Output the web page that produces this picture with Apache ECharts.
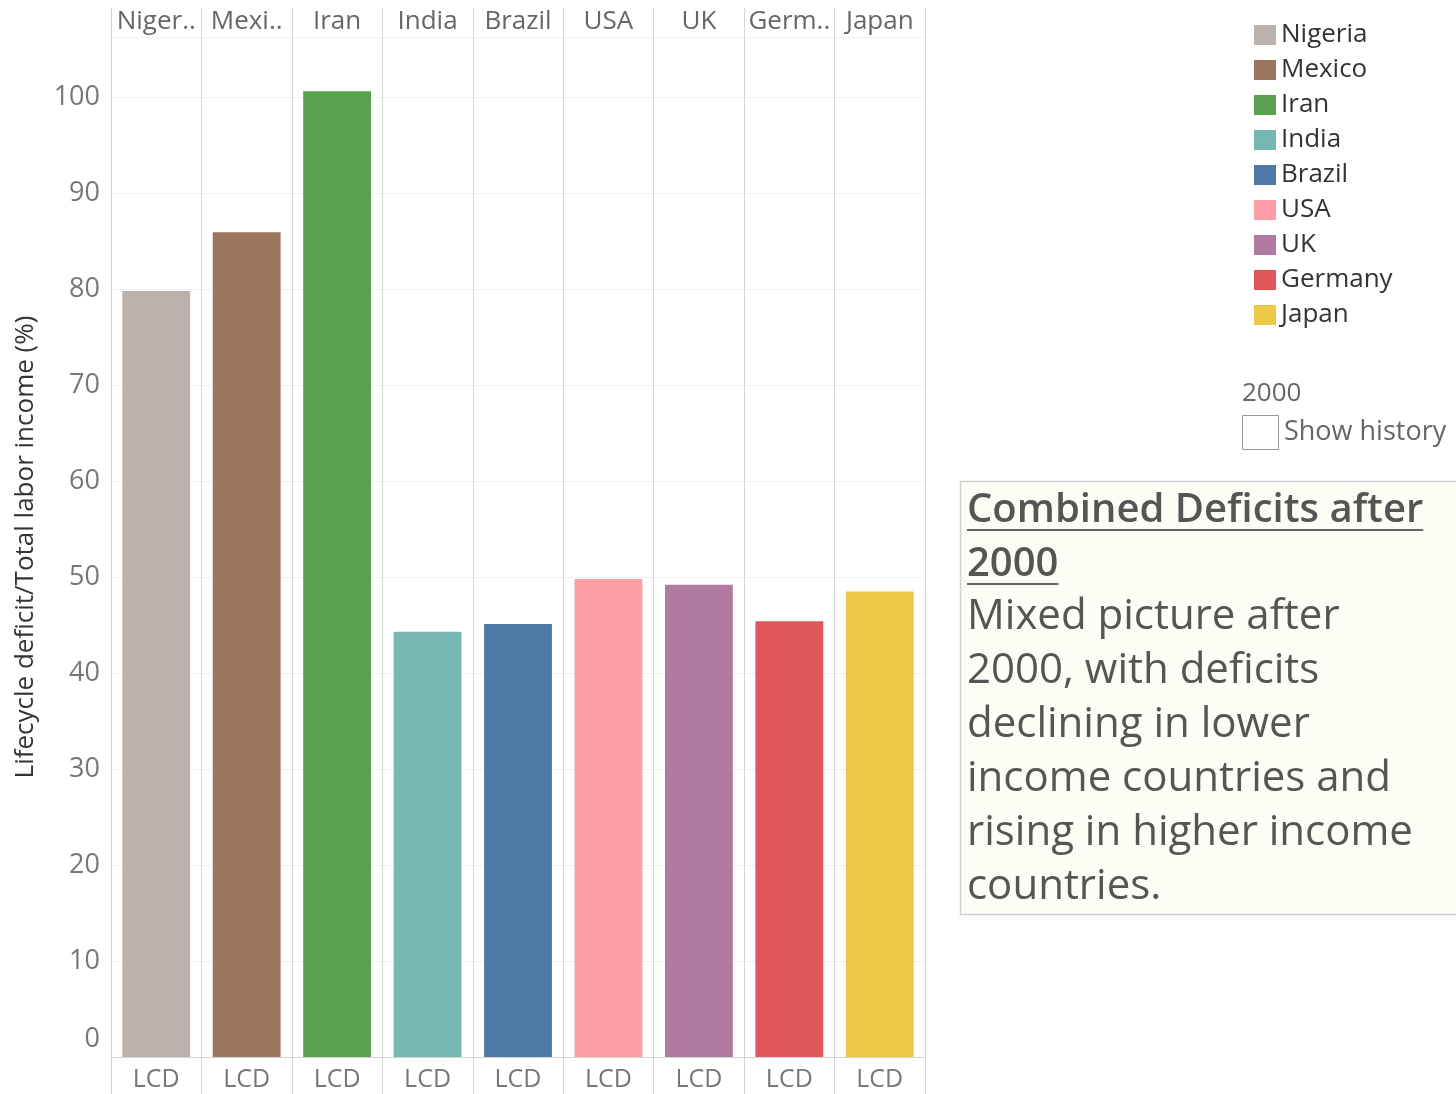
<!DOCTYPE html>
<html>
<head>
<meta charset="utf-8">
<title>Combined Deficits after 2000</title>
<script src="https://cdn.jsdelivr.net/npm/echarts@6/dist/echarts.min.js"></script>
<style>
  html, body { margin: 0; padding: 0; background: #fff; }
  #main { width: 1456px; height: 1094px; }
</style>
</head>
<body>
<div id="main"></div>
<script>
// data
const countries = ["Nigeria", "Mexico", "Iran", "India", "Brazil", "USA", "UK", "Germany", "Japan"];
const measureName = "LCD";
const lcdValues = [79.8, 85.9, 100.6, 44.3, 45.1, 49.8, 49.2, 45.4, 48.5];
const countryColors = ["#bab0ac", "#9c755f", "#59a14f", "#76b7b2", "#4e79a7", "#ff9da7", "#b07aa1", "#e15759", "#edc948"];
const yAxisTitle = "Lifecycle deficit/Total labor income (%)";
const yearLabel = "2000";
const noteTitle = ["Combined Deficits after", "2000"];
const noteBody = ["Mixed picture after", "2000, with deficits", "declining in lower", "income countries and", "rising in higher income", "countries."];

const font = "Open Sans";
const myChart = echarts.init(document.getElementById("main"));

// one series per country so the legend lists them; stacked so each bar stays centred
const series = countries.map((name, i) => ({
  name: name,
  type: "bar",
  stack: "lcd",
  barWidth: "75%",
  itemStyle: { color: countryColors[i] },
  data: lcdValues.map((v, j) => (j === i ? v : "-"))
}));

// measure text so the title underline fits the words
const measureCtx = document.createElement("canvas").getContext("2d");
function textWidth(t, f) {
  measureCtx.font = f;
  return measureCtx.measureText(t).width;
}

// note box on the right
const lineH = 54;
const titleFont = "600 40px " + font;
const bodyFont = "42px " + font;
const noteGraphics = [
  {
    type: "rect",
    shape: { x: 960.5, y: 481.5, width: 520, height: 433 },
    style: { fill: "#fdfdf6", stroke: "#cfcfcf", lineWidth: 1.5 }
  }
];
noteTitle.forEach((t, i) => {
  const y = 511 + i * lineH;
  noteGraphics.push({
    type: "text",
    x: 967, y: y,
    style: { text: t, font: titleFont, fill: "#555", verticalAlign: "middle" }
  });
  noteGraphics.push({
    type: "line",
    shape: { x1: 967, y1: y + 19, x2: 967 + textWidth(t, titleFont), y2: y + 19 },
    style: { stroke: "#666", lineWidth: 2 }
  });
});
noteBody.forEach((t, i) => {
  noteGraphics.push({
    type: "text",
    x: 967, y: 617 + i * lineH,
    style: { text: t, font: bodyFont, fill: "#555", verticalAlign: "middle" }
  });
});

const option = {
  animation: false,
  textStyle: { fontFamily: font },
  legend: {
    orient: "vertical",
    left: 1249,
    top: 17,
    icon: "rect",
    itemWidth: 22,
    itemHeight: 20,
    itemGap: 9,
    selectedMode: false,
    textStyle: { fontSize: 26, lineHeight: 24, color: "#333", fontFamily: font },
    data: countries
  },
  grid: {
    left: 111,
    right: 531,
    top: 37,
    bottom: 37,
    outerBoundsMode: "none"
  },
  xAxis: [
    {
      type: "category",
      data: countries,
      position: "bottom",
      axisLine: { show: true, lineStyle: { color: "#d4d4d4" } },
      axisTick: { show: true, interval: 0, length: 37, lineStyle: { color: "#d4d4d4" } },
      axisLabel: {
        interval: 0,
        margin: 10,
        fontSize: 25,
        color: "#777",
        formatter: () => measureName
      },
      splitLine: { show: true, interval: 0, lineStyle: { color: "#d4d4d4" } }
    },
    {
      type: "category",
      data: countries,
      position: "top",
      axisLine: { show: false },
      axisTick: { show: true, interval: 0, length: 29, lineStyle: { color: "#d4d4d4" } },
      axisLabel: {
        interval: 0,
        margin: 2,
        fontSize: 26,
        color: "#666",
        width: 84,
        overflow: "truncate",
        ellipsis: ".."
      },
      splitLine: { show: false }
    }
  ],
  yAxis: {
    type: "value",
    min: 0,
    max: 106.25,
    interval: 10,
    name: yAxisTitle,
    nameLocation: "middle",
    nameGap: 72,
    nameTextStyle: { fontSize: 26, color: "#333", fontFamily: font },
    axisLine: { show: false },
    axisTick: { show: false },
    axisLabel: {
      margin: 11,
      fontSize: 27,
      color: "#777",
      showMaxLabel: false,
      formatter: v => (v === 0 ? "{z|0}" : v % 10 === 0 ? String(v) : ""),
      rich: { z: { fontSize: 27, color: "#777", padding: [0, 0, 36, 0] } }
    },
    splitLine: { show: true, lineStyle: { color: "#f0f0f0" } }
  },
  graphic: [
    {
      type: "text",
      x: 1242, y: 394,
      style: { text: yearLabel, font: "26px " + font, fill: "#666", verticalAlign: "middle" }
    },
    {
      type: "rect",
      shape: { x: 1242.5, y: 415.5, width: 36, height: 34 },
      style: { fill: "#fff", stroke: "#999", lineWidth: 1 }
    },
    {
      type: "text",
      x: 1284, y: 432,
      style: { text: "Show history", font: "27px " + font, fill: "#666", verticalAlign: "middle" }
    }
  ].concat(noteGraphics),
  series: series
};

myChart.setOption(option);
</script>
</body>
</html>
